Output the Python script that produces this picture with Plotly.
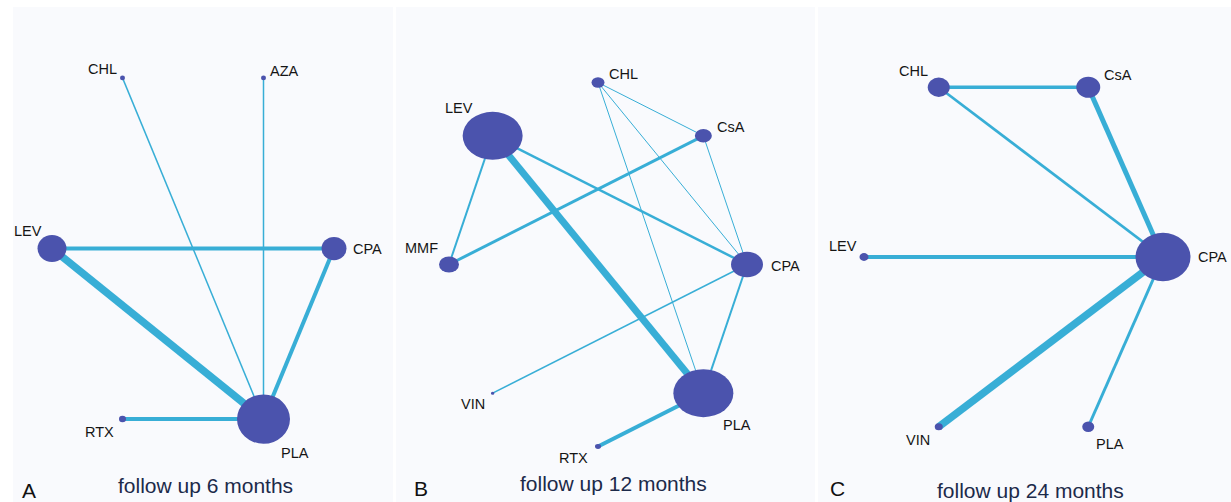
import math
import plotly.graph_objects as go

W, H = 1231, 502

# ---------------- data ----------------
# Panel A: follow up 6 months (nodes listed counter-clockwise starting at 3 o'clock)
a_nodes = ["CPA", "AZA", "CHL", "LEV", "RTX", "PLA"]
a_node_size = [25, 5, 5, 29, 7, 53]
a_edges = [("CHL", "PLA"), ("AZA", "PLA"), ("LEV", "CPA"), ("LEV", "PLA"), ("CPA", "PLA"), ("RTX", "PLA")]
a_edge_width = [1.5, 1.5, 4, 7.5, 4, 4]

# Panel B: follow up 12 months
b_nodes = ["CPA", "CsA", "CHL", "LEV", "MMF", "VIN", "RTX", "PLA"]
b_node_size = [32, 17, 13, 60, 20, 3.5, 6, 60]
b_edges = [("LEV", "PLA"), ("LEV", "MMF"), ("LEV", "CPA"), ("MMF", "CsA"), ("CHL", "CsA"),
           ("CHL", "CPA"), ("CHL", "PLA"), ("CsA", "CPA"), ("CPA", "VIN"), ("CPA", "PLA"), ("PLA", "RTX")]
b_edge_width = [7, 2, 2.5, 3, 1, 1, 1, 1, 1.5, 2, 4]

# Panel C: follow up 24 months
c_nodes = ["CPA", "CsA", "CHL", "LEV", "VIN", "PLA"]
c_node_size = [55, 24, 22, 9, 8, 12]
c_edges = [("CHL", "CsA"), ("CHL", "CPA"), ("CsA", "CPA"), ("LEV", "CPA"), ("VIN", "CPA"), ("PLA", "CPA")]
c_edge_width = [3.3, 2.7, 5, 4, 7.5, 3]

titles = ["follow up 6 months", "follow up 12 months", "follow up 24 months"]
letters = ["A", "B", "C"]

# ---------------- style / layout ----------------
NODE_COLOR = "#4b53ad"
EDGE_COLOR = "#38aed6"
LABEL_COLOR = "#151515"
TITLE_COLOR = "#1c2a4a"
FONT = "Liberation Sans, Arial, sans-serif"

panels = [
    dict(nodes=a_nodes, sizes=a_node_size, edges=a_edges, widths=a_edge_width,
         box=(13, 393, 7, 502), center=(193, 248.5), radius=(141, 197), aspect=0.93,
         offsets={"CHL": (-20, -9), "AZA": (21, -7), "LEV": (-24, -18), "CPA": (33, 0),
                  "RTX": (-23, 13), "PLA": (31, 34)},
         letter_pos=(29, 490), title_pos=(205, 485)),
    dict(nodes=b_nodes, sizes=b_node_size, edges=b_edges, widths=b_edge_width,
         box=(396, 815, 7, 502), center=(598, 264.5), radius=(149, 182), aspect=0.8,
         offsets={"CHL": (25, -9), "LEV": (-34, -28), "CsA": (28, -9), "MMF": (-28, -17),
                  "CPA": (38, 1), "VIN": (-20, 11), "PLA": (34, 32), "RTX": (-25, 11)},
         letter_pos=(421, 488), title_pos=(613, 483)),
    dict(nodes=c_nodes, sizes=c_node_size, edges=c_edges, widths=c_edge_width,
         box=(818, 1231, 7, 502), center=(1013.5, 257), radius=(149.5, 196), aspect=0.88,
         offsets={"CHL": (-25, -16), "CsA": (30, -12), "LEV": (-21, -11), "CPA": (49, 0),
                  "VIN": (-21, 13), "PLA": (22, 17)},
         letter_pos=(837, 488), title_pos=(1030, 490)),
]

fig = go.Figure()
shapes = []
annotations = []
layout_axes = {}

for i, p in enumerate(panels):
    k = "" if i == 0 else str(i + 1)
    xref, yref = "x" + k, "y" + k
    n = len(p["nodes"])
    pos = {}
    for j, name in enumerate(p["nodes"]):
        ang = 2 * math.pi * j / n
        pos[name] = (math.cos(ang), math.sin(ang))

    # edges
    for (u, v), w in zip(p["edges"], p["widths"]):
        fig.add_trace(go.Scatter(
            x=[pos[u][0], pos[v][0]], y=[pos[u][1], pos[v][1]],
            mode="lines", line=dict(color=EDGE_COLOR, width=w),
            hoverinfo="skip", showlegend=False, xaxis=xref, yaxis=yref))

    # nodes (ellipses in pixel size anchored at node position)
    for name, s in zip(p["nodes"], p["sizes"]):
        hw = s / 2
        hh = max(s * p["aspect"], min(s, 3)) / 2
        shapes.append(dict(
            type="circle", xref=xref, yref=yref,
            xsizemode="pixel", ysizemode="pixel",
            xanchor=pos[name][0], yanchor=pos[name][1],
            x0=-hw, x1=hw, y0=-hh, y1=hh,
            fillcolor=NODE_COLOR, line=dict(width=0), layer="above"))
        dx, dy = p["offsets"][name]
        annotations.append(dict(
            x=pos[name][0], y=pos[name][1], xref=xref, yref=yref,
            text=name, showarrow=False, xshift=dx, yshift=-dy,
            xanchor="center", yanchor="middle",
            font=dict(family=FONT, size=14.5, color=LABEL_COLOR)))

    # axes mapping
    X0, X1, Y0, Y1 = p["box"]
    cx, cy = p["center"]
    rx, ry = p["radius"]
    layout_axes["xaxis" + k] = dict(
        domain=[X0 / W, X1 / W], range=[(X0 - cx) / rx, (X1 - cx) / rx],
        visible=False, fixedrange=True, anchor=yref)
    layout_axes["yaxis" + k] = dict(
        domain=[1 - Y1 / H, 1 - Y0 / H], range=[(cy - Y1) / ry, (cy - Y0) / ry],
        visible=False, fixedrange=True, anchor=xref)

    lx, ly = p["letter_pos"]
    annotations.append(dict(
        x=lx / W, y=1 - ly / H, xref="paper", yref="paper", text=letters[i],
        showarrow=False, xanchor="center", yanchor="middle",
        font=dict(family=FONT, size=21, color="#111111")))
    tx, ty = p["title_pos"]
    annotations.append(dict(
        x=tx / W, y=1 - ty / H, xref="paper", yref="paper", text=titles[i],
        showarrow=False, xanchor="center", yanchor="middle",
        font=dict(family=FONT, size=21, color=TITLE_COLOR)))

fig.update_layout(
    width=W, height=H, margin=dict(l=0, r=0, t=0, b=0),
    paper_bgcolor="white", plot_bgcolor="#f9fafd",
    shapes=shapes, annotations=annotations, showlegend=False,
    **layout_axes)

fig.write_html(
    "out.html", config=dict(displayModeBar=False),
    post_script="document.body.style.margin='0';document.body.style.overflow='hidden';")
